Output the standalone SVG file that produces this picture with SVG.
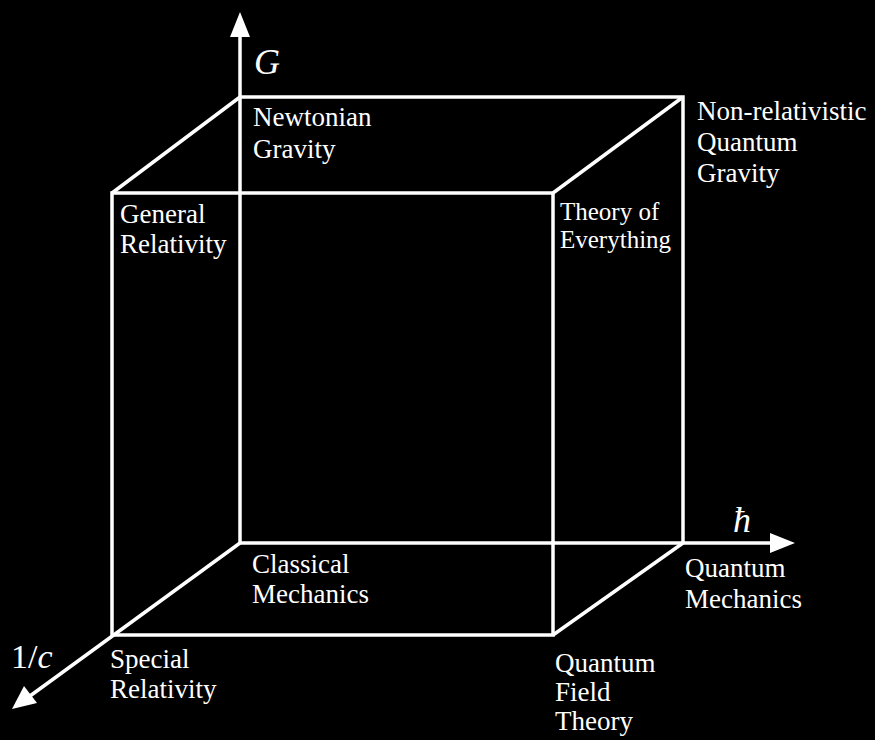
<svg xmlns="http://www.w3.org/2000/svg" width="875" height="740" viewBox="0 0 875 740">
<style>
.e{stroke:#fff;stroke-width:3.5;fill:none}
.t{fill:#fff;font-family:"Liberation Serif","Times New Roman",serif;font-size:27px}
.ax{fill:#fff;font-family:"Liberation Serif","Times New Roman",serif;font-size:36px;font-style:italic}
</style>
<rect width="875" height="740" fill="#000"/>
<g id="connectors">
<path class="e" d="M240,543 L240,36"/>
<polygon points="240,12 230,37 250,37" fill="#fff"/>
<path class="e" d="M240,543 L772,543"/>
<polygon points="795,543 770,533 770,553" fill="#fff"/>
<path class="e" d="M240,543 L30,696"/>
<polygon points="12,709 24,686 37,703" fill="#fff"/>
<path class="e" d="M240,97 L683,97 L683,543"/>
<path class="e" d="M112,193 L553,193 L553,635 L112,635 Z"/>
<path class="e" d="M112,193 L240,97"/>
<path class="e" d="M553,193 L683,97"/>
<path class="e" d="M553,635 L683,543"/>
</g>
<g id="axis-G"><text class="ax" x="254" y="74">G</text></g>
<g id="axis-hbar"><text class="ax" x="733" y="532">ħ</text></g>
<g id="axis-c"><text class="ax" x="11" y="668" style="font-style:normal;font-size:34px">1/<tspan style="font-style:italic">c</tspan></text></g>
<g id="newtonian-gravity"><text class="t" x="253" y="126">Newtonian</text><text class="t" x="253" y="158">Gravity</text></g>
<g id="nonrel-quantum-gravity"><text class="t" x="697" y="120">Non-relativistic</text><text class="t" x="697" y="151">Quantum</text><text class="t" x="697" y="182">Gravity</text></g>
<g id="general-relativity"><text class="t" x="120" y="223">General</text><text class="t" x="120" y="253">Relativity</text></g>
<g id="theory-of-everything"><text class="t" x="560" y="220" style="font-size:25px">Theory of</text><text class="t" x="560" y="248" style="font-size:25px">Everything</text></g>
<g id="classical-mechanics"><text class="t" x="252" y="573">Classical</text><text class="t" x="252" y="603">Mechanics</text></g>
<g id="quantum-mechanics"><text class="t" x="685" y="577">Quantum</text><text class="t" x="685" y="608">Mechanics</text></g>
<g id="special-relativity"><text class="t" x="110" y="668">Special</text><text class="t" x="110" y="698">Relativity</text></g>
<g id="quantum-field-theory"><text class="t" x="555" y="672">Quantum</text><text class="t" x="555" y="701">Field</text><text class="t" x="555" y="730">Theory</text></g>
</svg>
